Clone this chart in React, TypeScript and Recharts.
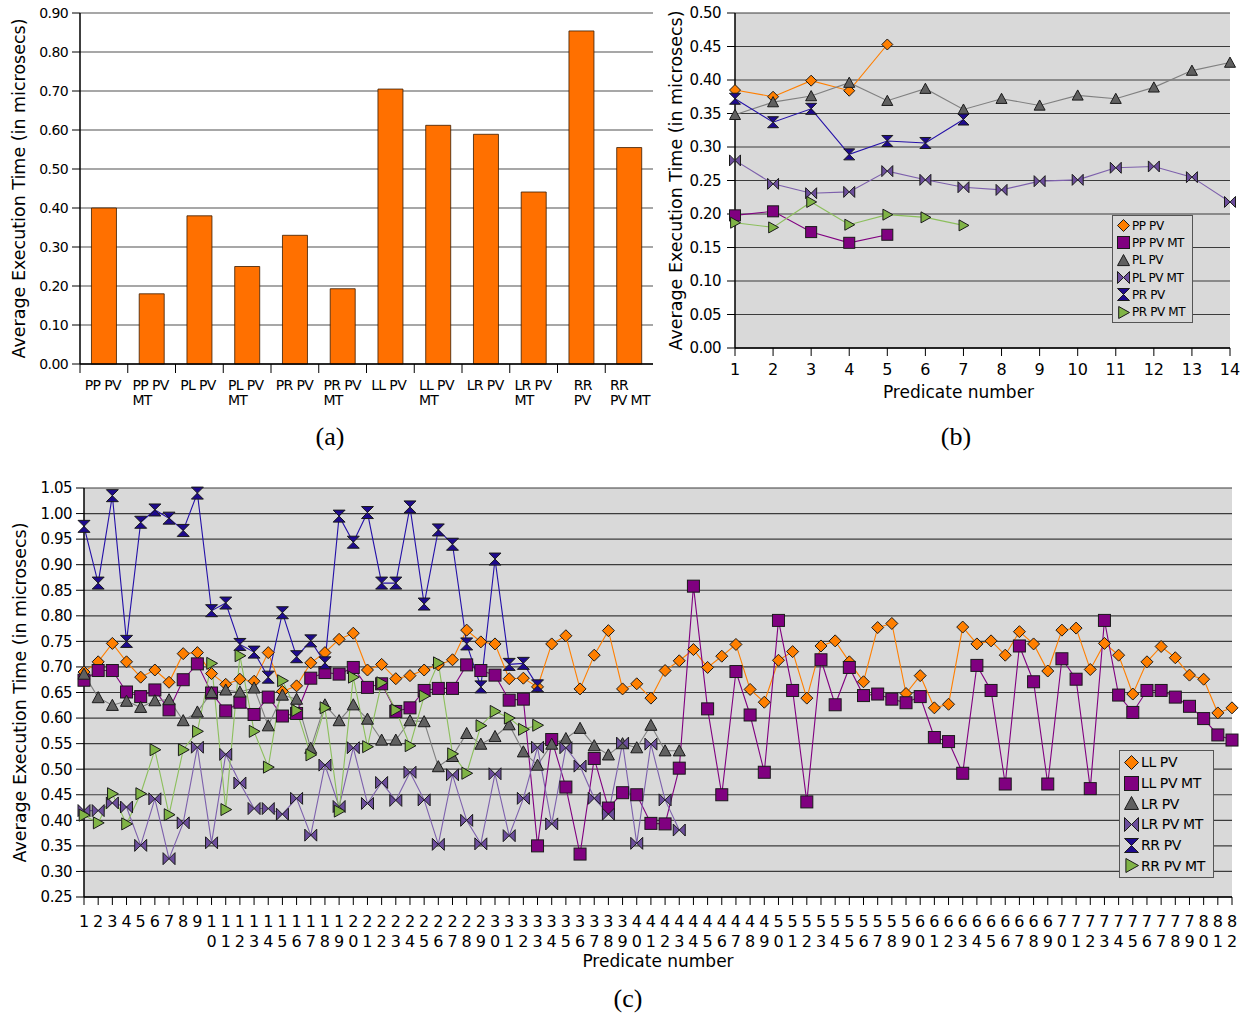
import React from "react";
import {
  Bar,
  BarChart,
  CartesianGrid,
  Legend,
  Line,
  LineChart,
  XAxis,
  YAxis,
} from "recharts";

const FONT = "'DejaVu Sans', Verdana, sans-serif";
const Y_LABEL = "Average Execution Time (in microsecs)";

// ---- (a) average over all predicates ----
const barNames = [
  "PP PV", "PP PV\nMT", "PL PV", "PL PV\nMT", "PR PV", "PR PV\nMT",
  "LL PV", "LL PV\nMT", "LR PV", "LR PV\nMT", "RR\nPV", "RR\nPV MT",
];
const barValues = [0.4, 0.18, 0.38, 0.25, 0.33, 0.193, 0.705, 0.612, 0.589, 0.441, 0.854, 0.555];
const barTicks = [0, 0.1, 0.2, 0.3, 0.4, 0.5, 0.6, 0.7, 0.8, 0.9];

// ---- (b) PP / PL / PR per predicate ----
const bPredicates = [1, 2, 3, 4, 5, 6, 7, 8, 9, 10, 11, 12, 13, 14];
const ppPv = [0.385, 0.375, 0.399, 0.384, 0.453];
const ppPvMt = [0.198, 0.204, 0.173, 0.157, 0.169];
const plPv = [0.348, 0.367, 0.376, 0.396, 0.369, 0.387, 0.356, 0.372, 0.362, 0.377, 0.372, 0.389, 0.414, 0.426];
const plPvMt = [0.28, 0.245, 0.231, 0.233, 0.264, 0.251, 0.24, 0.236, 0.249, 0.251, 0.269, 0.271, 0.255, 0.218];
const prPv = [0.372, 0.337, 0.357, 0.289, 0.309, 0.306, 0.341];
const prPvMt = [0.187, 0.18, 0.218, 0.184, 0.199, 0.195, 0.183];
const bTicks = [0, 0.05, 0.1, 0.15, 0.2, 0.25, 0.3, 0.35, 0.4, 0.45, 0.5];

// ---- (c) LL / LR / RR per predicate ----
const cPredicates = [
  1, 2, 3, 4, 5, 6, 7, 8, 9, 10, 11, 12, 13, 14, 15, 16, 17, 18, 19, 20,
  21, 22, 23, 24, 25, 26, 27, 28, 29, 30, 31, 32, 33, 34, 35, 36, 37, 38, 39, 40,
  41, 42, 43, 44, 45, 46, 47, 48, 49, 50, 51, 52, 53, 54, 55, 56, 57, 58, 59, 60,
  61, 62, 63, 64, 65, 66, 67, 68, 69, 70, 71, 72, 73, 74, 75, 76, 77, 78, 79, 80,
  81, 82,
];
const llPv = [
  0.69, 0.71, 0.746, 0.71, 0.68, 0.694, 0.67, 0.726, 0.728, 0.687,
  0.666, 0.676, 0.672, 0.728, 0.652, 0.663, 0.708, 0.728, 0.754, 0.766,
  0.694, 0.705, 0.677, 0.683, 0.694, 0.704, 0.714, 0.772, 0.749, 0.745,
  0.677, 0.678, 0.661, 0.745, 0.761, 0.657, 0.723, 0.771, 0.657, 0.667,
  0.639, 0.693, 0.712, 0.734, 0.699, 0.721, 0.744, 0.656, 0.631, 0.713,
  0.73, 0.639, 0.741, 0.751, 0.71, 0.671, 0.777, 0.785, 0.648, 0.683,
  0.62, 0.627, 0.778, 0.745, 0.751, 0.723, 0.769, 0.745, 0.692, 0.772,
  0.776, 0.695, 0.746, 0.723, 0.647, 0.71, 0.74, 0.718, 0.684, 0.676,
  0.61, 0.62,
];
const llPvMt = [
  0.674, 0.693, 0.693, 0.651, 0.642, 0.655, 0.616, 0.675, 0.706, 0.649,
  0.614, 0.631, 0.607, 0.641, 0.604, 0.609, 0.678, 0.689, 0.686, 0.699,
  0.66, 0.667, 0.613, 0.62, 0.654, 0.658, 0.658, 0.704, 0.693, 0.684,
  0.635, 0.637, 0.35, 0.558, 0.465, 0.334, 0.521, 0.424, 0.454, 0.45,
  0.394, 0.393, 0.502, 0.858, 0.618, 0.45, 0.691, 0.606, 0.494, 0.791,
  0.654, 0.436, 0.714, 0.626, 0.699, 0.644, 0.647, 0.637, 0.63, 0.642,
  0.562, 0.554, 0.492, 0.703, 0.654, 0.471, 0.741, 0.671, 0.471, 0.716,
  0.676, 0.462, 0.791, 0.645, 0.611, 0.654, 0.654, 0.641, 0.623, 0.599,
  0.567, 0.557,
];
const lrPv = [
  0.686, 0.64, 0.625, 0.633, 0.621, 0.634, 0.636, 0.595, 0.612, 0.65,
  0.655, 0.651, 0.659, 0.585, 0.645, 0.637, 0.541, 0.626, 0.595, 0.626,
  0.598, 0.557, 0.557, 0.595, 0.593, 0.505, 0.525, 0.57, 0.549, 0.564,
  0.587, 0.534, 0.508, 0.549, 0.56, 0.58, 0.546, 0.528, 0.55, 0.542,
  0.586, 0.536, 0.536,
];
const lrPvMt = [
  0.419, 0.419, 0.434, 0.426, 0.351, 0.442, 0.325, 0.395, 0.543, 0.356,
  0.529, 0.473, 0.423, 0.423, 0.412, 0.443, 0.371, 0.508, 0.427, 0.542,
  0.433, 0.474, 0.439, 0.494, 0.44, 0.353, 0.489, 0.4, 0.354, 0.491,
  0.37, 0.443, 0.543, 0.393, 0.542, 0.506, 0.443, 0.412, 0.551, 0.355,
  0.549, 0.44, 0.381,
];
const rrPv = [
  0.975, 0.864, 1.035, 0.75, 0.983, 1.007, 0.991, 0.967, 1.04, 0.81,
  0.825, 0.744, 0.729, 0.68, 0.806, 0.72, 0.751, 0.708, 0.995, 0.944,
  1.002, 0.864, 0.864, 1.013, 0.823, 0.968, 0.94, 0.745, 0.661, 0.911,
  0.705, 0.707, 0.663,
];
const rrPvMt = [
  0.41, 0.395, 0.452, 0.393, 0.452, 0.538, 0.411, 0.538, 0.574, 0.707,
  0.421, 0.722, 0.574, 0.504, 0.673, 0.615, 0.528, 0.62, 0.418, 0.68,
  0.544, 0.669, 0.616, 0.546, 0.643, 0.708, 0.53, 0.492, 0.585, 0.613,
  0.6, 0.578, 0.586,
];
const cTicks = [
  0.25, 0.3, 0.35, 0.4, 0.45, 0.5, 0.55, 0.6, 0.65, 0.7, 0.75, 0.8, 0.85, 0.9,
  0.95, 1.0, 1.05,
];

type Shape = "diamond" | "square" | "triangle" | "bowtie" | "hourglass" | "arrow";

interface Series {
  key: string;
  name: string;
  values: number[];
  shape: Shape;
  fill: string;
  line: string;
}

const ORANGE = "#ff7f00";
const PURPLE = "#800080";
const GRAY = "#606060";
const LAVENDER = "#6c4d9c";
const NAVY = "#1e0a8e";
const GREEN = "#80b446";

const bSeries: Series[] = [
  { key: "ppPv", name: "PP PV", values: ppPv, shape: "diamond", fill: ORANGE, line: ORANGE },
  { key: "ppPvMt", name: "PP PV MT", values: ppPvMt, shape: "square", fill: PURPLE, line: PURPLE },
  { key: "plPv", name: "PL PV", values: plPv, shape: "triangle", fill: GRAY, line: "#808080" },
  { key: "plPvMt", name: "PL PV MT", values: plPvMt, shape: "bowtie", fill: LAVENDER, line: "#7d60ac" },
  { key: "prPv", name: "PR PV", values: prPv, shape: "hourglass", fill: NAVY, line: "#2410a8" },
  { key: "prPvMt", name: "PR PV MT", values: prPvMt, shape: "arrow", fill: GREEN, line: "#8cbf5c" },
];

const cSeries: Series[] = [
  { key: "llPv", name: "LL PV", values: llPv, shape: "diamond", fill: ORANGE, line: ORANGE },
  { key: "llPvMt", name: "LL PV MT", values: llPvMt, shape: "square", fill: PURPLE, line: PURPLE },
  { key: "lrPv", name: "LR PV", values: lrPv, shape: "triangle", fill: GRAY, line: "#808080" },
  { key: "lrPvMt", name: "LR PV MT", values: lrPvMt, shape: "bowtie", fill: LAVENDER, line: "#7d60ac" },
  { key: "rrPv", name: "RR PV", values: rrPv, shape: "hourglass", fill: NAVY, line: "#2410a8" },
  { key: "rrPvMt", name: "RR PV MT", values: rrPvMt, shape: "arrow", fill: GREEN, line: "#8cbf5c" },
];

const barData = barNames.map((name, i) => ({ name, value: barValues[i] }));

const buildRows = (cats: number[], series: Series[]) =>
  cats.map((p, i) => {
    const row: any = { p };
    series.forEach((s) => {
      row[s.key] = i < s.values.length ? s.values[i] : null;
    });
    return row;
  });

const bData = buildRows(bPredicates, bSeries);
const cData = buildRows(cPredicates, cSeries);

const Marker = ({ shape, cx, cy, r, fill }: { shape: Shape; cx: number; cy: number; r: number; fill: string }) => {
  const common = { fill, stroke: "#1a1a1a", strokeWidth: 1 };
  let pts = "";
  switch (shape) {
    case "square":
      return <rect x={cx - r} y={cy - r} width={2 * r} height={2 * r} {...common} />;
    case "diamond":
      pts = `${cx},${cy - r} ${cx + r},${cy} ${cx},${cy + r} ${cx - r},${cy}`;
      break;
    case "triangle":
      pts = `${cx},${cy - r} ${cx + r},${cy + r * 0.85} ${cx - r},${cy + r * 0.85}`;
      break;
    case "bowtie":
      pts = `${cx - r},${cy - r} ${cx},${cy} ${cx + r},${cy - r} ${cx + r},${cy + r} ${cx},${cy} ${cx - r},${cy + r}`;
      break;
    case "hourglass":
      pts = `${cx - r},${cy - r} ${cx + r},${cy - r} ${cx},${cy} ${cx + r},${cy + r} ${cx - r},${cy + r} ${cx},${cy}`;
      break;
    case "arrow":
      pts = `${cx - r * 0.8},${cy - r} ${cx + r},${cy} ${cx - r * 0.8},${cy + r}`;
      break;
  }
  return <polygon points={pts} {...common} />;
};

const makeDot = (s: Series, r: number) => (p: any) => {
  const k = p.key ?? `${s.key}-${p.index}`;
  if (p.value == null || !Number.isFinite(p.cy) || !Number.isFinite(p.cx)) return <g key={k} />;
  return (
    <g key={k}>
      <Marker shape={s.shape} cx={p.cx} cy={p.cy} r={r} fill={s.fill} />
    </g>
  );
};

const LegendBox = ({ items, fontSize, rowHeight, r, width }: { items: Series[]; fontSize: number; rowHeight: number; r: number; width: number }) => (
  <div
    style={{
      border: "1px solid #555",
      background: "#d9d9d9",
      width,
      boxSizing: "border-box",
      padding: "1px 0 1px 3px",
      fontFamily: FONT,
      fontSize,
      color: "#000",
      letterSpacing: -0.4,
    }}
  >
    {items.map((s) => (
      <div key={s.key} style={{ display: "flex", alignItems: "center", height: rowHeight, whiteSpace: "nowrap" }}>
        <svg width={2 * r + 3} height={2 * r + 3} style={{ marginRight: 1, flex: "none" }}>
          <Marker shape={s.shape} cx={r + 1.5} cy={r + 1.5} r={r} fill={s.fill} />
        </svg>
        <span>{s.name}</span>
      </div>
    ))}
  </div>
);

// (a) labels: left-aligned block centred under each band, tick at band start
const BAND_A = 573 / 12;
const BarTick = (props: any) => {
  const { x, y, payload } = props;
  const lines = String(payload.value).split("\n");
  const longest = Math.max(...lines.map((l) => l.length));
  const left = x - (longest * 7.7) / 2;
  return (
    <g>
      <line x1={x - BAND_A / 2} y1={y} x2={x - BAND_A / 2} y2={y + 9} stroke="#000" strokeWidth={1} />
      <text x={left} y={y + 26} fontSize={14} fontFamily={FONT} fill="#000" letterSpacing={-0.6}>
        {lines.map((l, i) => (
          <tspan key={i} x={left} dy={i === 0 ? 0 : 15}>
            {l}
          </tspan>
        ))}
      </text>
    </g>
  );
};

// (c) two-digit numbers are stacked: tens on top, units below
const StackTick = (props: any) => {
  const { x, y, payload } = props;
  const s = String(payload.value);
  return (
    <text x={x} y={y} textAnchor="middle" fontSize={16} fontFamily={FONT} fill="#000">
      <tspan x={x} dy={20}>{s[0]}</tspan>
      {s.length > 1 && (
        <tspan x={x} dy={20}>
          {s[1]}
        </tspan>
      )}
    </text>
  );
};

const fmt2 = (v: number) => v.toFixed(2);

const Caption = ({ text, cx, cy }: { text: string; cx: number; cy: number }) => (
  <div
    style={{
      position: "absolute",
      left: cx - 40,
      top: cy - 15,
      width: 80,
      textAlign: "center",
      fontFamily: "'Liberation Serif', 'Times New Roman', serif",
      fontSize: 26,
      lineHeight: "30px",
      color: "#000",
    }}
  >
    {text}
  </div>
);

const yLabel = (offset: number) => ({
  value: Y_LABEL,
  angle: -90,
  position: "insideLeft" as const,
  offset,
  style: { textAnchor: "middle" as const, fontSize: 17.5, fill: "#000", fontFamily: FONT },
});

export default function App() {
  return (
    <div style={{ position: "absolute", left: 0, top: 0, width: 1254, height: 1018, background: "#fff", fontFamily: FONT }}>
      {/* (a) */}
      <div style={{ position: "absolute", left: 0, top: 0 }}>
        <BarChart width={666} height={420} data={barData} margin={{ top: 13, right: 13, left: 0, bottom: 0 }} barCategoryGap="24%">
          <CartesianGrid vertical={false} stroke="#8a8a8a" strokeWidth={1.5} />
          <XAxis
            dataKey="name"
            height={56}
            interval={0}
            axisLine={{ stroke: "#000", strokeWidth: 1.5 }}
            tickLine={false}
            tickSize={0}
            tickMargin={0}
            tick={(p: any) => <BarTick {...p} />}
          />
          <YAxis
            width={80}
            domain={[0, 0.9]}
            ticks={barTicks}
            interval={0}
            tickFormatter={fmt2}
            axisLine={{ stroke: "#000", strokeWidth: 1.5 }}
            tickLine={{ stroke: "#000" }}
            tickSize={8}
            tickMargin={4}
            tick={{ fontSize: 14, fill: "#000", fontFamily: FONT, letterSpacing: -0.6 }}
            label={yLabel(19)}
          />
          <Bar dataKey="value" fill="#ff7000" stroke="#3a1c00" strokeWidth={0.8} isAnimationActive={false} />
        </BarChart>
      </div>

      {/* (b) */}
      <div style={{ position: "absolute", left: 660, top: 0 }}>
        <LineChart width={594} height={410} data={bData} margin={{ top: 13, right: 24, left: 0, bottom: 0 }}>
          <CartesianGrid vertical={false} stroke="#3c3c3c" strokeWidth={1.2} fill="#d9d9d9" />
          <XAxis
            dataKey="p"
            height={62}
            interval={0}
            axisLine={{ stroke: "#000", strokeWidth: 1.5 }}
            tickLine={{ stroke: "#000" }}
            tickSize={8}
            tickMargin={8}
            tick={{ fontSize: 16, fill: "#000", fontFamily: FONT }}
            label={{ value: "Predicate number", position: "insideBottom", offset: 12, dx: -24, style: { fontSize: 17, fill: "#000", fontFamily: FONT } }}
          />
          <YAxis
            width={75}
            domain={[0, 0.5]}
            ticks={bTicks}
            interval={0}
            tickFormatter={fmt2}
            axisLine={{ stroke: "#000", strokeWidth: 1.5 }}
            tickLine={{ stroke: "#000" }}
            tickSize={8}
            tickMargin={6}
            tick={{ fontSize: 15, fill: "#000", fontFamily: FONT, letterSpacing: -0.5 }}
            label={yLabel(16)}
          />
          {bSeries.map((s) => (
            <Line
              key={s.key}
              dataKey={s.key}
              name={s.name}
              stroke={s.line}
              strokeWidth={1.1}
              dot={makeDot(s, 5.5)}
              activeDot={false}
              connectNulls={false}
              isAnimationActive={false}
            />
          ))}
          <Legend
            layout="vertical"
            align="center"
            verticalAlign="middle"
            wrapperStyle={{ left: 452, top: 215, width: "auto", height: "auto" }}
            content={() => <LegendBox items={bSeries} fontSize={12} rowHeight={17.3} r={6} width={81} />}
          />
        </LineChart>
      </div>

      {/* (c) */}
      <div style={{ position: "absolute", left: 0, top: 470 }}>
        <LineChart width={1254} height={520} data={cData} margin={{ top: 18, right: 22, left: 0, bottom: 0 }}>
          <CartesianGrid vertical={false} stroke="#3c3c3c" strokeWidth={1.2} fill="#d9d9d9" />
          <XAxis
            dataKey="p"
            height={93}
            interval={0}
            axisLine={{ stroke: "#000", strokeWidth: 1.5 }}
            tickLine={{ stroke: "#000" }}
            tickSize={8}
            tickMargin={2}
            tick={(p: any) => <StackTick {...p} />}
            label={{ value: "Predicate number", position: "insideBottom", offset: 23, style: { fontSize: 17, fill: "#000", fontFamily: FONT } }}
          />
          <YAxis
            width={84}
            domain={[0.25, 1.05]}
            ticks={cTicks}
            interval={0}
            tickFormatter={fmt2}
            axisLine={{ stroke: "#000", strokeWidth: 1.5 }}
            tickLine={{ stroke: "#000" }}
            tickSize={8}
            tickMargin={4}
            tick={{ fontSize: 15, fill: "#000", fontFamily: FONT, letterSpacing: -0.5 }}
            label={yLabel(20)}
          />
          {cSeries.map((s) => (
            <Line
              key={s.key}
              dataKey={s.key}
              name={s.name}
              stroke={s.line}
              strokeWidth={1.1}
              dot={makeDot(s, 6)}
              activeDot={false}
              connectNulls={false}
              isAnimationActive={false}
            />
          ))}
          <Legend
            layout="vertical"
            align="center"
            verticalAlign="middle"
            wrapperStyle={{ left: 1119, top: 280, width: "auto", height: "auto" }}
            content={() => <LegendBox items={cSeries} fontSize={14} rowHeight={20.7} r={7} width={95} />}
          />
        </LineChart>
      </div>

      <Caption text="(a)" cx={330} cy={437} />
      <Caption text="(b)" cx={956} cy={437} />
      <Caption text="(c)" cx={628} cy={999} />
    </div>
  );
}
